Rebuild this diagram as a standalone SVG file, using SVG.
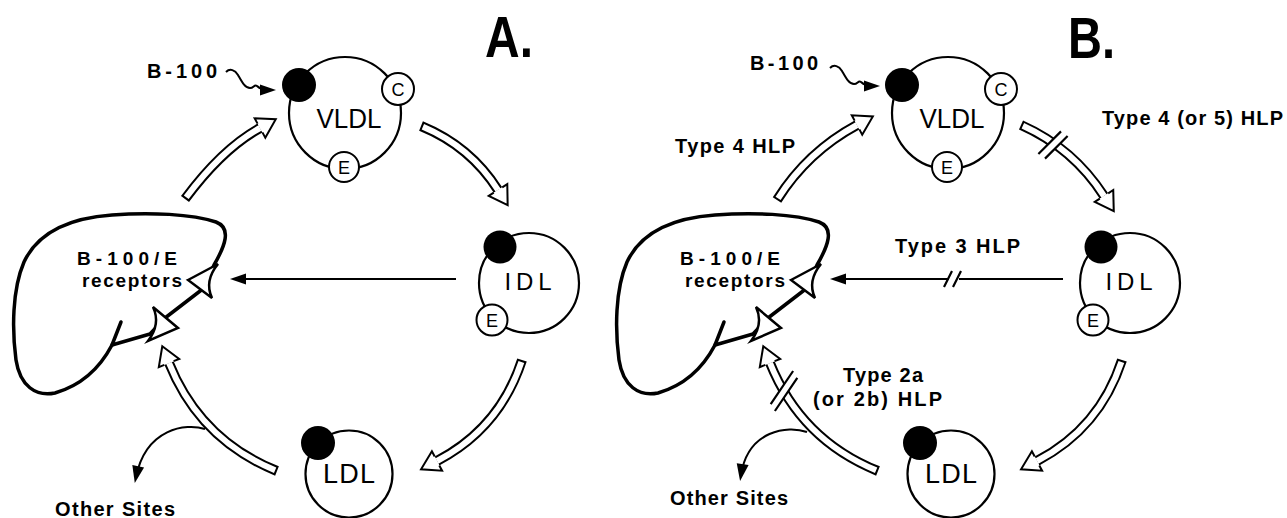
<svg xmlns="http://www.w3.org/2000/svg" width="1287" height="518" viewBox="0 0 1287 518">
<style>
text{font-family:"Liberation Sans",Arial,sans-serif;fill:#000}
.lbl{font-size:20px;font-weight:bold}
.rl{font-size:19px;font-weight:bold}
.big{font-size:58px;font-weight:bold}
.nm{font-weight:normal;text-anchor:middle}
.ring{fill:#fff;stroke:#000;stroke-width:2.2}
.dot{fill:#000}
.apo{fill:#fff;stroke:#000;stroke-width:2}
.apot{font-size:18px;text-anchor:middle}
.sb{fill:none;stroke:#000;stroke-width:10}
.sw{fill:none;stroke:#fff;stroke-width:6;stroke-dasharray:0 2 3000}
.ln{fill:none;stroke:#000;stroke-width:2}
.liver{fill:none;stroke:#000;stroke-width:3.5;stroke-linejoin:round;stroke-linecap:round}
.rec{fill:#fff;stroke:#000;stroke-width:2.5;stroke-linejoin:miter}
.gap{fill:#fff;stroke:none}
.brk{fill:none;stroke:#000;stroke-width:2.2}
</style>
<defs>
<marker id="hh" markerUnits="userSpaceOnUse" orient="auto" refX="0" refY="0" overflow="visible"><path d="M0,-5 L0,-11 L18,0 L0,11 L0,5" fill="#fff" stroke="#000" stroke-width="2" stroke-linejoin="miter"/></marker>
<marker id="fh" markerUnits="userSpaceOnUse" orient="auto" refX="0" refY="0" overflow="visible"><path d="M6,0 L-10,-5.5 L-10,5.5Z" fill="#000"/></marker>
<marker id="fh2" markerUnits="userSpaceOnUse" orient="auto" refX="0" refY="0" overflow="visible"><path d="M6,0 L-11,-6 L-11,6Z" fill="#000"/></marker>
</defs>
<rect width="1287" height="518" fill="#fff"/>

<!-- Panel A -->
<text class="big" x="485" y="57" textLength="48" lengthAdjust="spacingAndGlyphs">A.</text>

<g id="liver-a">
<path class="liver" d="M112,345 C102,364 86,384 55,393 C36,397 20,386 16,360 C12,330 12,290 24,262 C38,232 70,218 112,215 C150,212 192,214 216,222 C232,228 225,246 214,265 L204,288 L165,318 L150,334 L112,345"/>
<path class="liver" d="M112,345 L121,322"/>
<path class="rec" d="M188,280 L218,264 Q204,281 212,298 Z"/>
<path class="rec" d="M178,328 L153,307 Q161,324 148,341 Z"/>
<text class="rl" x="77" y="265" textLength="100">B-100/E</text>
<text class="rl" x="82" y="287" textLength="100">receptors</text>
</g>

<g id="vldl-a">
<circle class="ring" cx="345" cy="113" r="56"/>
<circle class="dot" cx="299" cy="85" r="17"/>
<circle class="apo" cx="398" cy="89" r="16"/>
<text class="apot" x="398" y="96">C</text>
<circle class="apo" cx="344" cy="167" r="15"/>
<text class="apot" x="344" y="174">E</text>
<text class="nm" x="349" y="128" font-size="28" textLength="65" lengthAdjust="spacingAndGlyphs">VLDL</text>
</g>

<g id="idl-a">
<circle class="ring" cx="529" cy="283" r="50"/>
<circle class="dot" cx="500" cy="247" r="16.5"/>
<circle class="apo" cx="492" cy="320" r="15.5"/>
<text class="apot" x="492" y="327">E</text>
<text class="nm" x="528" y="290" font-size="24" textLength="47">IDL</text>
</g>

<g id="ldl-a">
<circle class="ring" cx="349" cy="474" r="43.5"/>
<circle class="dot" cx="318" cy="443" r="17"/>
<text class="nm" x="349" y="483" font-size="27" textLength="52">LDL</text>
</g>

<g id="b100-a">
<text class="lbl" x="147" y="78" textLength="70">B-100</text>
</g>

<g id="other-a">
<text class="lbl" x="55" y="516" textLength="120">Other Sites</text>
</g>

<g id="connectors-a">
<path class="sb" d="M185,199 Q222,149 260,128"/><path class="sw" d="M185,199 Q222,149 260,128" marker-end="url(#hh)"/>
<path class="sb" d="M421,126 Q470,146 498,190"/><path class="sw" d="M421,126 Q470,146 498,190" marker-end="url(#hh)"/>
<path class="sb" d="M522,360 Q500,428 437,461"/><path class="sw" d="M522,360 Q500,428 437,461" marker-end="url(#hh)"/>
<path class="sb" d="M277,471 Q200,440 169,363"/><path class="sw" d="M277,471 Q200,440 169,363" marker-end="url(#hh)"/>
<path class="ln" d="M456,279 L236,279" marker-end="url(#fh)"/>
<path class="ln" d="M205,429 C186,423 146,428 136,477" marker-end="url(#fh2)"/>
<path class="ln" d="M226,72 C230,68 235,70 238,75 C242,82 245,88 250,88 C254,88 254,84 257,86 C259,88 262,90 270,90" marker-end="url(#fh)"/>
</g>

<!-- Panel B -->
<text class="big" x="1068" y="58" textLength="47" lengthAdjust="spacingAndGlyphs">B.</text>

<g id="liver-b" transform="translate(603,0)">
<path class="liver" d="M112,345 C102,364 86,384 55,393 C36,397 20,386 16,360 C12,330 12,290 24,262 C38,232 70,218 112,215 C150,212 192,214 216,222 C232,228 225,246 214,265 L204,288 L165,318 L150,334 L112,345"/>
<path class="liver" d="M112,345 L121,322"/>
<path class="rec" d="M188,280 L218,264 Q204,281 212,298 Z"/>
<path class="rec" d="M178,328 L153,307 Q161,324 148,341 Z"/>
<text class="rl" x="77" y="265" textLength="100">B-100/E</text>
<text class="rl" x="82" y="287" textLength="100">receptors</text>
</g>

<g id="vldl-b" transform="translate(603,0)">
<circle class="ring" cx="345" cy="113" r="56"/>
<circle class="dot" cx="299" cy="85" r="17"/>
<circle class="apo" cx="398" cy="89" r="16"/>
<text class="apot" x="398" y="96">C</text>
<circle class="apo" cx="344" cy="167" r="15"/>
<text class="apot" x="344" y="174">E</text>
<text class="nm" x="349" y="128" font-size="28" textLength="65" lengthAdjust="spacingAndGlyphs">VLDL</text>
</g>

<g id="idl-b" transform="translate(601,0)">
<circle class="ring" cx="529" cy="283" r="50"/>
<circle class="dot" cx="500" cy="247" r="16.5"/>
<circle class="apo" cx="492" cy="320" r="15.5"/>
<text class="apot" x="492" y="327">E</text>
<text class="nm" x="528" y="290" font-size="24" textLength="47">IDL</text>
</g>

<g id="ldl-b" transform="translate(602,0)">
<circle class="ring" cx="349" cy="474" r="43.5"/>
<circle class="dot" cx="318" cy="443" r="17"/>
<text class="nm" x="349" y="483" font-size="27" textLength="52">LDL</text>
</g>

<g id="b100-b">
<text class="lbl" x="750" y="70" textLength="68">B-100</text>
</g>

<g id="other-b">
<text class="lbl" x="670" y="505" textLength="118">Other Sites</text>
</g>

<g id="hlp-labels">
<text class="lbl" x="675" y="153" textLength="120">Type 4 HLP</text>
<text class="lbl" x="1102" y="125" textLength="181">Type 4 (or 5) HLP</text>
<text class="lbl" x="895" y="253" textLength="125">Type 3 HLP</text>
<text class="lbl" x="843" y="382" textLength="80">Type 2a</text>
<text class="lbl" x="813" y="406" textLength="129">(or 2b) HLP</text>
</g>

<g id="connectors-b">
<path class="sb" d="M777,200 Q807,152 857,125"/><path class="sw" d="M777,200 Q807,152 857,125" marker-end="url(#hh)"/>
<path class="sb" d="M1021,125 Q1073,148 1104,196"/><path class="sw" d="M1021,125 Q1073,148 1104,196" marker-end="url(#hh)"/>
<polygon class="gap" points="1044,148.4 1055.4,137 1062,141.6 1050.6,153"/>
<path class="brk" d="M1038.4,154 L1061,131.4 M1045,158.6 L1067.6,136"/>
<path class="sb" d="M1122,360 Q1100,428 1037,461"/><path class="sw" d="M1122,360 Q1100,428 1037,461" marker-end="url(#hh)"/>
<path class="sb" d="M878,471 Q801,440 770,363"/><path class="sw" d="M878,471 Q801,440 770,363" marker-end="url(#hh)"/>
<polygon class="gap" points="777.4,394.2 786.4,381 790.6,387.8 781.6,401"/>
<path class="brk" d="M770.7,404.2 L793.1,371 M774.9,411 L797.3,377.8"/>
<path class="ln" d="M1063,279 L959,279 M949,279 L836,279" marker-end="url(#fh)"/>
<path class="brk" d="M944,287 L952,271 M953,287 L961,271"/>
<path class="ln" d="M807,432 C788,425 748,430 741,475" marker-end="url(#fh2)"/>
<path class="ln" d="M830,68 C834,64 839,66 842,71 C846,78 849,84 854,84 C858,84 858,80 861,82 C863,84 866,86 874,86" marker-end="url(#fh)"/>
</g>
</svg>
